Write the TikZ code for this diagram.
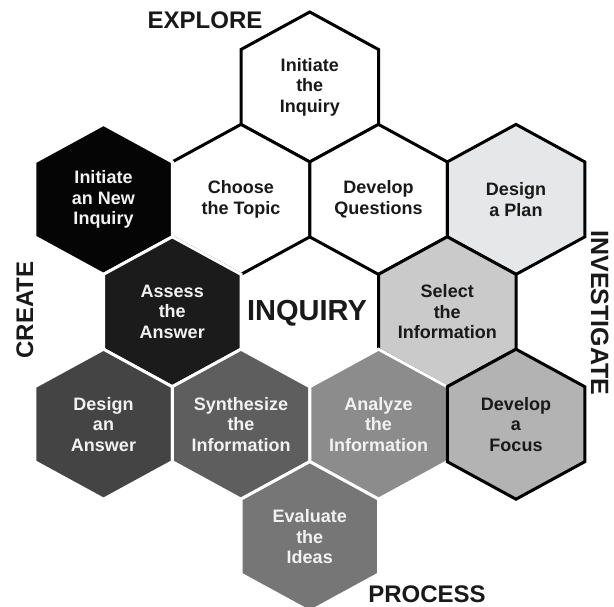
\documentclass[tikz,border=0pt]{standalone}
\usepackage{fontspec}
\setmainfont{Liberation Sans}
\definecolor{cplan}{HTML}{E6E7E8}
\definecolor{cselect}{HTML}{CBCACA}
\definecolor{cfocus}{HTML}{B3B3B3}
\definecolor{canalyze}{HTML}{8C8C8C}
\definecolor{cevaluate}{HTML}{767676}
\definecolor{csynth}{HTML}{5E5E5E}
\definecolor{cdesign}{HTML}{444444}
\definecolor{cassess}{HTML}{1B1B1B}
\definecolor{cnew}{HTML}{050505}
\definecolor{lighttxt}{HTML}{F2F2F2}
\tikzset{
  lighthex/.style={draw=black, line width=3pt, line join=miter, fill=#1},
  darkhex/.style={draw=white, line width=3pt, line join=miter, fill=#1},
  hextext/.style={align=center, font=\fontsize{18}{20.5}\selectfont\bfseries, inner sep=0pt},
  blacktext/.style={hextext, text=black!90},
  whitetext/.style={hextext, text=lighttxt},
  sidelabel/.style={font=\fontsize{24}{28}\selectfont\bfseries, inner sep=0pt, text=black!90},
}
% #1 name, #2 x, #3 y, #4 hex style, #5 text style, #6 text
\newcommand\mhex[6]{%
  \path[#4] (#2,#3) ++(0,-75) -- ++(68.75,37.5) -- ++(0,75) -- ++(-68.75,37.5)
     -- ++(-68.75,-37.5) -- ++(0,-75) -- cycle;
  \node[#5] (#1) at (#2,#3) {#6};
}
\begin{document}
\begin{tikzpicture}[x=1pt,y=-1pt]
\useasboundingbox (0,0) rectangle (614,607);
\fill[white] (0,0) rectangle (614,607);
% light hexes (black outline)
\mhex{initiate}{309.75}{87}{lighthex=white}{blacktext}{Initiate\\the\\Inquiry}
\mhex{choose}{241}{199.4}{lighthex=white}{blacktext}{Choose\\the Topic}
\mhex{questions}{378.5}{199.4}{lighthex=white}{blacktext}{Develop\\Questions}
\mhex{plan}{516}{199.4}{lighthex=cplan}{blacktext}{Design\\a Plan}
\mhex{select}{447.25}{311.8}{lighthex=cselect}{blacktext}{Select\\the\\Information}
% dark hexes (white outline)
\mhex{newinq}{103.5}{199.4}{darkhex=cnew}{whitetext}{Initiate\\an New\\Inquiry}
\mhex{assess}{172.25}{311.8}{darkhex=cassess}{whitetext}{Assess\\the\\Answer}
\mhex{answer}{103.5}{424.2}{darkhex=cdesign}{whitetext}{Design\\an\\Answer}
\mhex{synth}{241}{424.2}{darkhex=csynth}{whitetext}{Synthesize\\the\\Information}
\mhex{analyze}{378.5}{424.2}{darkhex=canalyze}{whitetext}{Analyze\\the\\Information}
\mhex{evaluate}{309.75}{536.6}{darkhex=cevaluate}{whitetext}{Evaluate\\the\\Ideas}
% focus on top
\mhex{focus}{516}{424.2}{lighthex=cfocus}{blacktext}{Develop\\a\\Focus}
% labels
\node[sidelabel, anchor=base] (explore) at (205,29) {EXPLORE};
\node[sidelabel, anchor=base, rotate=90] (create) at (33,310) {CREATE};
\node[sidelabel, anchor=base, rotate=-90, font=\fontsize{25}{28}\selectfont\bfseries] (investigate) at (591,313) {INVESTIGATE};
\node[sidelabel, anchor=base] (process) at (427,602) {PROCESS};
\node[sidelabel, anchor=base, font=\fontsize{29}{32}\selectfont\bfseries] (inquiry) at (307,320) {INQUIRY};
\end{tikzpicture}
\end{document}
